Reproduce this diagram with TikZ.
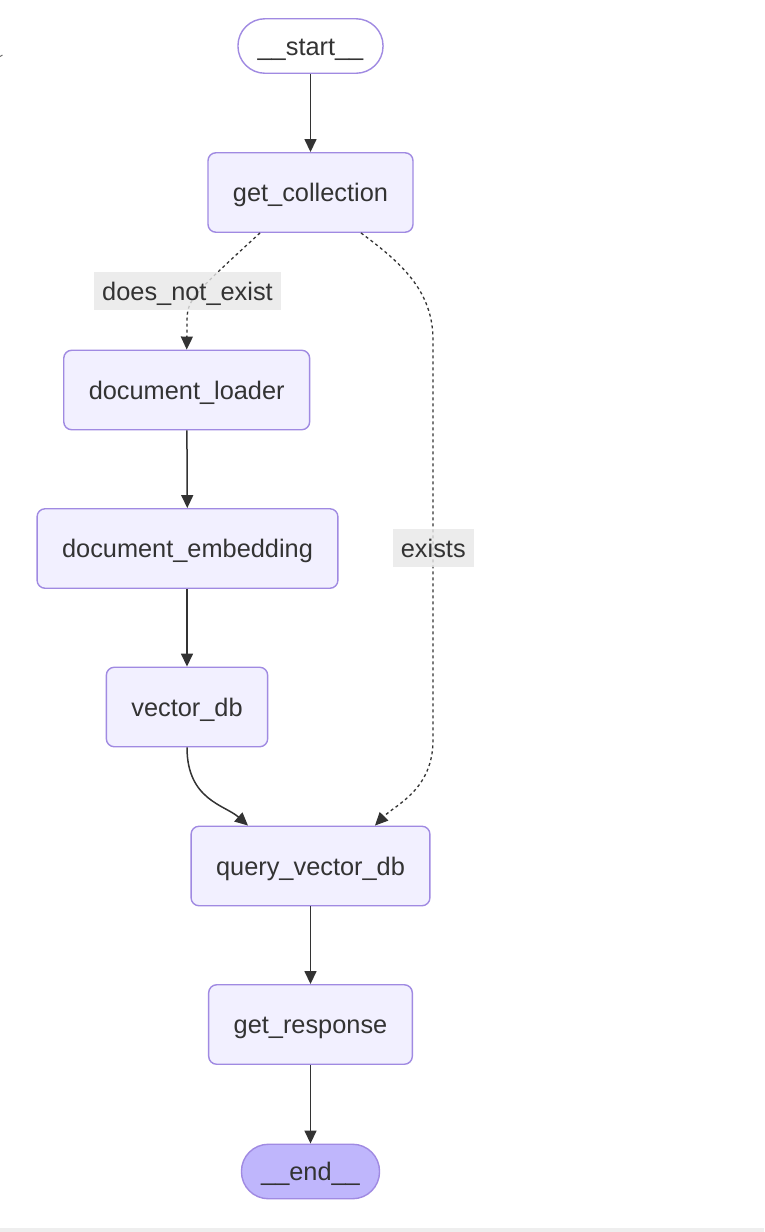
\documentclass[tikz,border=0pt]{standalone}
\usepackage{fontspec}
\setmainfont{Liberation Sans}
\usetikzlibrary{arrows.meta}
\definecolor{nodefill}{HTML}{F2F0FF}
\definecolor{nodeline}{HTML}{A08AE2}
\definecolor{endfill}{HTML}{BFB6FC}
\definecolor{edgeink}{HTML}{333333}
\definecolor{textink}{HTML}{333333}
\definecolor{labelbg}{HTML}{E8E8E8}
\definecolor{stripgray}{HTML}{EEEEEE}
\begin{document}
\begin{tikzpicture}[x=1pt,y=-1pt,
  every node/.style={font=\fontsize{25.35}{30}\selectfont, text=textink,
    text height=23pt, text depth=5pt},
  stepbox/.style={draw=nodeline, line width=1.4pt, fill=nodefill, rounded corners=8pt,
    minimum height=79.5pt, inner xsep=25pt, inner ysep=0pt},
  terminal/.style={draw=nodeline, line width=1.4pt, rounded corners=27pt,
    minimum height=54.5pt, inner xsep=19.7pt, inner ysep=0pt},
  edgelabel/.style={fill=labelbg, fill opacity=0.8, text opacity=1,
    minimum height=38pt, inner xsep=8pt, inner ysep=0pt},
  flow/.style={draw=edgeink, line width=1.5pt, -{Triangle[length=13pt,width=12pt]}},
  maybe/.style={flow, line width=1.3pt, dash pattern=on 3pt off 3pt},
]
\useasboundingbox (0,0) rectangle (764,1232);
\fill[white] (0,0) rectangle (764,1232);

% graph nodes
\node[terminal, fill=white] (start) at (310.5,46) {\_\_start\_\_};
\node[stepbox] (gc)  at (310.5,192.5) {get\_collection};
\node[stepbox] (dl)  at (186.7,390)   {document\_loader};
\node[stepbox] (de)  at (187.5,548.5) {document\_embedding};
\node[stepbox] (vdb) at (187,707)     {vector\_db};
\node[stepbox] (qv)  at (310.5,866)   {query\_vector\_db};
\node[stepbox] (gr)  at (310.5,1024.5) {get\_response};
\node[terminal, fill=endfill] (end) at (310.5,1171.5) {\_\_end\_\_};

% edges
\draw[flow] (start) -- (gc);
\draw[maybe] ([xshift=-50.5pt]gc.south) .. controls (187,300) .. (187,325) -- (dl.north);
\draw[maybe] ([xshift=50.5pt]gc.south) .. controls (400,262) and (433,290) .. (433,340)
  -- (433,740) .. controls (433,790) and (395,805) .. ([xshift=64.5pt]qv.north);
\draw[flow] (dl) -- (de);
\draw[flow] (de.south -| vdb) -- (vdb);
\draw[flow] (vdb.south) .. controls (187,800) and (225,805) .. ([xshift=-62.5pt]qv.north);
\draw[flow] (qv) -- (gr);
\draw[flow] (gr) -- (end);

% conditional edge labels
\node[edgelabel] (nolabel) at (187.5,291.3) {does\_not\_exist};
\node[edgelabel] (yeslabel) at (433.3,548.3) {exists};

% page edge details
\fill[stripgray] (0,1228) rectangle (764,1232);
\draw[edgeink!70, line width=1pt] (0,56.5) -- (2.5,55);
\end{tikzpicture}
\end{document}
